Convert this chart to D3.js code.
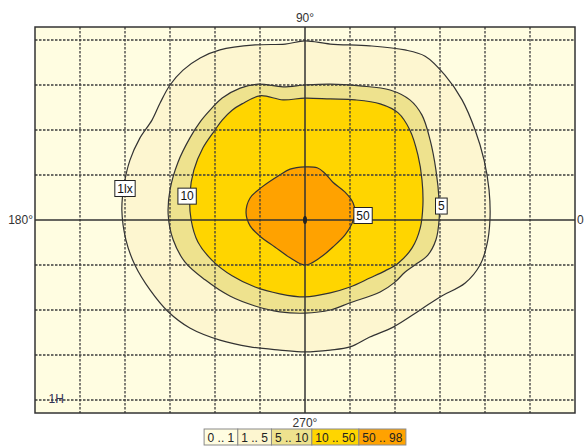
<!DOCTYPE html>
<html><head><meta charset="utf-8">
<script src="https://cdn.jsdelivr.net/npm/d3@7"></script>
<style>
html,body{margin:0;padding:0;background:#fff;}
svg{display:block;}
text{font-family:"Liberation Sans",Arial,sans-serif;}
</style></head>
<body>
<script>
// ---- data (grid units; 1 unit = one grid cell) ----
const xTicks = [-5,-4,-3,-2,-1,1,2,3,4,5];
const yTicks = [-4,-3,-2,-1,1,2,3,4];
const axisLabels = [
  {t:"90°", x:0, y:4.289, pos:"top"},
  {t:"270°", x:0, y:-4.289, pos:"bottom"},
  {t:"180°", x:-6, y:0, pos:"left"},
  {t:"0", x:6, y:0, pos:"right"}
];
// iso-lines: 1 lx, 5, 10, 50
const contour1 = [[0,3.98],[0.56,3.91],[1.44,3.87],[2.22,3.78],[2.67,3.64],[3.11,3.22],[3.49,2.67],[3.78,2.0],[3.98,1.33],[4.09,0.67],[4.11,0],[4.04,-0.56],[3.89,-1.0],[3.56,-1.4],[3.0,-1.71],[2.56,-2.0],[1.96,-2.38],[1.44,-2.6],[1.0,-2.82],[0.56,-2.89],[0,-2.93],[-0.56,-2.89],[-1.22,-2.82],[-1.89,-2.67],[-2.56,-2.4],[-3.04,-2.04],[-3.44,-1.56],[-3.78,-1.0],[-3.98,-0.44],[-4.07,0.22],[-4.02,0.78],[-3.89,1.33],[-3.67,1.82],[-3.4,2.22],[-3.22,2.6],[-3.0,3.0],[-2.71,3.33],[-2.33,3.6],[-1.89,3.78],[-1.11,3.89],[-0.44,3.91]];
const contour5 = [[0,3.0],[0.56,3.02],[1.22,2.98],[1.89,2.89],[2.33,2.67],[2.6,2.33],[2.78,1.78],[2.91,1.11],[2.98,0.44],[2.98,0],[2.91,-0.44],[2.73,-0.78],[2.44,-1.0],[2.22,-1.16],[2.0,-1.38],[1.67,-1.6],[1.0,-1.84],[0.56,-2.0],[0,-2.07],[-0.56,-2.04],[-1.11,-1.91],[-1.67,-1.69],[-2.22,-1.33],[-2.67,-0.93],[-2.93,-0.44],[-3.04,0.11],[-3.0,0.67],[-2.82,1.29],[-2.56,1.82],[-2.33,2.18],[-2.11,2.44],[-1.84,2.71],[-1.44,2.93],[-1.04,3.02],[-0.49,2.96]];
const contour10 = [[0,2.71],[0.56,2.69],[1.11,2.67],[1.67,2.58],[2.07,2.38],[2.33,2.0],[2.51,1.44],[2.6,0.89],[2.62,0.33],[2.56,-0.18],[2.38,-0.62],[2.07,-0.96],[1.78,-1.13],[1.44,-1.29],[1.0,-1.49],[0.56,-1.62],[0,-1.71],[-0.56,-1.64],[-1.11,-1.49],[-1.62,-1.24],[-2.07,-0.89],[-2.38,-0.49],[-2.53,0],[-2.56,0.56],[-2.47,1.11],[-2.27,1.6],[-2.0,2.0],[-1.84,2.22],[-1.62,2.44],[-1.4,2.58],[-1.0,2.76],[-0.49,2.67]];
const contour50 = [[0,1.18],[0.27,1.16],[0.44,1.04],[0.62,0.84],[0.89,0.62],[1.07,0.38],[1.11,0.16],[1.04,-0.09],[0.89,-0.33],[0.62,-0.6],[0.33,-0.84],[0,-1.0],[-0.33,-0.84],[-0.67,-0.6],[-1.0,-0.36],[-1.22,-0.13],[-1.31,0.16],[-1.22,0.49],[-0.96,0.73],[-0.56,1.0],[-0.33,1.13]];
const contours = [contour1, contour5, contour10, contour50];
const legendLabels = ["0 .. 1","1 .. 5","5 .. 10","10 .. 50","50 .. 98"];
const bandColors = ["#FFFDE1","#FDF6D0","#EEE28E","#FFD500","#FFA200"];
const contourLabels = [
  {t:"1lx", x:-4.0, y:0.7},
  {t:"10", x:-2.62, y:0.53},
  {t:"50", x:1.29, y:0.1},
  {t:"5", x:3.03, y:0.31}
];
const centerPoint = [0,0];
const cornerLabel = {t:"1H", x:-5.7, y:-4.0};

// ---- drawing ----
const W=584,H=446;
const svg=d3.select("body").append("svg").attr("width",W).attr("height",H);
const x=d3.scaleLinear().domain([-6,6]).range([35,575]);
const y=d3.scaleLinear().domain([-4.289,4.289]).range([413,27]);

svg.append("rect").attr("x",x(-6)).attr("y",y(4.289)).attr("width",x(6)-x(-6)).attr("height",y(-4.289)-y(4.289)).attr("fill",bandColors[0]);

const line=d3.line().x(d=>x(d[0])).y(d=>y(d[1])).curve(d3.curveCatmullRomClosed.alpha(0.5));
svg.selectAll("path.iso").data(contours).join("path").attr("class","iso")
  .attr("d",line).attr("fill",(d,i)=>bandColors[i+1]).attr("stroke","#333").attr("stroke-width",1.2);

// grid
const g=svg.append("g").attr("stroke","#3c3c3c").attr("stroke-width",1.3).attr("stroke-dasharray","2.5,1.5");
g.selectAll("line.v").data(xTicks).join("line").attr("class","v")
  .attr("x1",d=>x(d)).attr("x2",d=>x(d)).attr("y1",y(4.289)).attr("y2",y(-4.289));
g.selectAll("line.h").data(yTicks).join("line").attr("class","h")
  .attr("y1",d=>y(d)).attr("y2",d=>y(d)).attr("x1",x(-6)).attr("x2",x(6));
// center axes
svg.append("line").attr("x1",x(0)).attr("x2",x(0)).attr("y1",y(4.289)).attr("y2",y(-4.289)).attr("stroke","#333").attr("stroke-width",1.5);
svg.append("line").attr("y1",y(0)).attr("y2",y(0)).attr("x1",x(-6)).attr("x2",x(6)).attr("stroke","#333").attr("stroke-width",1.5);
// border
svg.append("rect").attr("x",x(-6)).attr("y",y(4.289)).attr("width",x(6)-x(-6)).attr("height",y(-4.289)-y(4.289)).attr("fill","none").attr("stroke","#333").attr("stroke-width",1.5);

// center marker
svg.append("ellipse").attr("cx",x(centerPoint[0])).attr("cy",y(centerPoint[1])).attr("rx",2).attr("ry",4).attr("fill","#222");

// axis labels
axisLabels.forEach(a=>{
  const t=svg.append("text").text(a.t).attr("font-size",12).attr("fill","#333");
  if(a.pos==="top") t.attr("x",x(a.x)).attr("y",y(a.y)-5).attr("text-anchor","middle");
  if(a.pos==="bottom") t.attr("x",x(a.x)).attr("y",y(a.y)+14).attr("text-anchor","middle");
  if(a.pos==="left") t.attr("x",x(a.x)-2).attr("y",y(a.y)+4).attr("text-anchor","end");
  if(a.pos==="right") t.attr("x",x(a.x)+2).attr("y",y(a.y)+4).attr("text-anchor","start");
});

// contour labels
contourLabels.forEach(c=>{
  const gg=svg.append("g");
  const r=gg.append("rect");
  const t=gg.append("text").text(c.t).attr("font-size",12).attr("fill","#111")
    .attr("x",x(c.x)).attr("y",y(c.y)+4).attr("text-anchor","middle");
  const w=t.node().getComputedTextLength()+5;
  r.attr("x",x(c.x)-w/2).attr("y",y(c.y)-8).attr("width",w).attr("height",16)
   .attr("fill","#fff").attr("stroke","#222").attr("stroke-width",1);
});

// corner label
svg.append("text").text(cornerLabel.t).attr("x",x(cornerLabel.x)).attr("y",y(cornerLabel.y)+3)
  .attr("font-size",12).attr("fill","#333355");

// legend
const lg=svg.append("g");
const widths=legendLabels.map(s=>{
  const t=lg.append("text").text(s).attr("font-size",12);
  const w=t.node().getComputedTextLength()+7; t.remove(); return w;});
const total=d3.sum(widths);
let cx=x(0)-total/2;
legendLabels.forEach((s,i)=>{
  lg.append("rect").attr("x",cx).attr("y",429).attr("width",widths[i]).attr("height",16)
    .attr("fill",bandColors[i]).attr("stroke","#8a8a8a").attr("stroke-width",1);
  lg.append("text").text(s).attr("x",cx+widths[i]/2).attr("y",442).attr("text-anchor","middle")
    .attr("font-size",12).attr("fill","#222");
  cx+=widths[i];
});
</script>
</body></html>
